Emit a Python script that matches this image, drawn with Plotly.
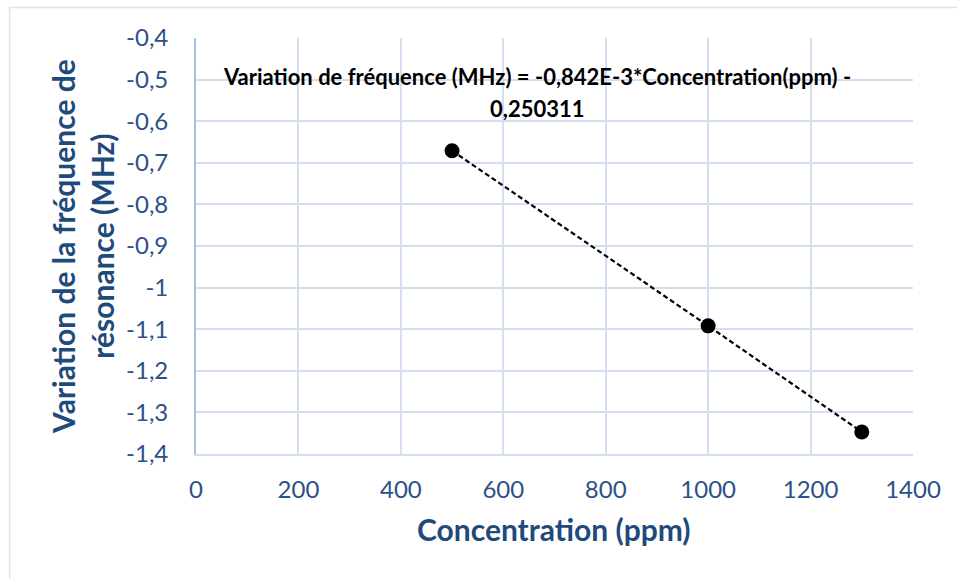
import plotly.graph_objects as go

# Data
concentration = [500, 1000, 1300]
variation_freq = [-0.671, -1.092, -1.347]

x_tickvals = [0, 200, 400, 600, 800, 1000, 1200, 1400]
x_ticktext = ["0", "200", "400", "600", "800", "1000", "1200", "1400"]
y_tickvals = [-0.4, -0.5, -0.6, -0.7, -0.8, -0.9, -1.0, -1.1, -1.2, -1.3, -1.4]
y_ticktext = ["-0,4", "-0,5", "-0,6", "-0,7", "-0,8", "-0,9", "-1", "-1,1", "-1,2", "-1,3", "-1,4"]

equation_lines = ["Variation de fréquence (MHz) = -0,842E-3*Concentration(ppm) -", "0,250311"]
x_title = "Concentration (ppm)"
y_title = "Variation de la fréquence de<br>résonance (MHz)"

FONT = "Lato"
TICK_COLOR = "#2c5088"
TITLE_COLOR = "#1f4a7c"
GRID = "#d3def1"

W, H = 957, 579
L, R, T, B = 196, 43.5, 37.7, 125.3
pw = W - L - R
ph = H - T - B


def px_x(p):
    return (p - L) / pw


def px_y(p):
    return (H - B - p) / ph


fig = go.Figure()
fig.add_trace(go.Scatter(
    x=concentration, y=variation_freq,
    mode="lines+markers",
    line=dict(color="black", width=2.2, dash="5px,3px"),
    marker=dict(color="black", size=15),
    showlegend=False,
))

fig.update_layout(
    width=W, height=H,
    margin=dict(l=L, r=R, t=T, b=B),
    paper_bgcolor="white", plot_bgcolor="white",
    font=dict(family=FONT),
    xaxis=dict(
        range=[0, 1400], tickvals=x_tickvals, ticktext=x_ticktext,
        showgrid=True, gridcolor=GRID, gridwidth=1.6,
        showline=True, linecolor=GRID, linewidth=1.6, mirror=False,
        zeroline=False, ticks="", ticklabelstandoff=13,
        tickfont=dict(family=FONT, size=24, color=TICK_COLOR),
    ),
    yaxis=dict(
        range=[-1.4, -0.4], tickvals=y_tickvals, ticktext=y_ticktext,
        showgrid=True, gridcolor=GRID, gridwidth=1.6,
        showline=True, linecolor="#a6bfe6", linewidth=1.8,
        zeroline=False, ticks="", ticklabelstandoff=21,
        tickfont=dict(family=FONT, size=24, color=TICK_COLOR),
    ),
    annotations=[
        dict(text=equation_lines[0], xref="paper", yref="paper",
             x=px_x(537.5), y=px_y(76),
             xanchor="center", yanchor="middle", showarrow=False,
             font=dict(family=FONT, size=22, color="black", weight="bold")),
        dict(text=equation_lines[1], xref="paper", yref="paper",
             x=px_x(537.5), y=px_y(108),
             xanchor="center", yanchor="middle", showarrow=False,
             font=dict(family=FONT, size=22, color="black", weight="bold")),
        dict(text=x_title, xref="paper", yref="paper",
             x=px_x(554), y=px_y(529),
             xanchor="center", yanchor="middle", showarrow=False,
             font=dict(family=FONT, size=30, color=TITLE_COLOR, weight="bold")),
        dict(text=y_title, xref="paper", yref="paper",
             x=px_x(83), y=px_y(246.5), textangle=-90,
             xanchor="center", yanchor="middle", showarrow=False,
             font=dict(family=FONT, size=30, color=TITLE_COLOR, weight="bold"),
             align="center"),
    ],
    shapes=[
        dict(type="rect", xref="paper", yref="paper",
             x0=px_x(9.5), x1=px_x(W + 20),
             y0=px_y(H + 20), y1=px_y(7.3),
             line=dict(color="#d9e3f3", width=1.5), layer="below"),
    ],
)

fig.write_html(
    "out.html",
    config={"displayModeBar": False},
    post_script="document.body.style.margin='0';document.body.style.overflow='hidden';",
)
